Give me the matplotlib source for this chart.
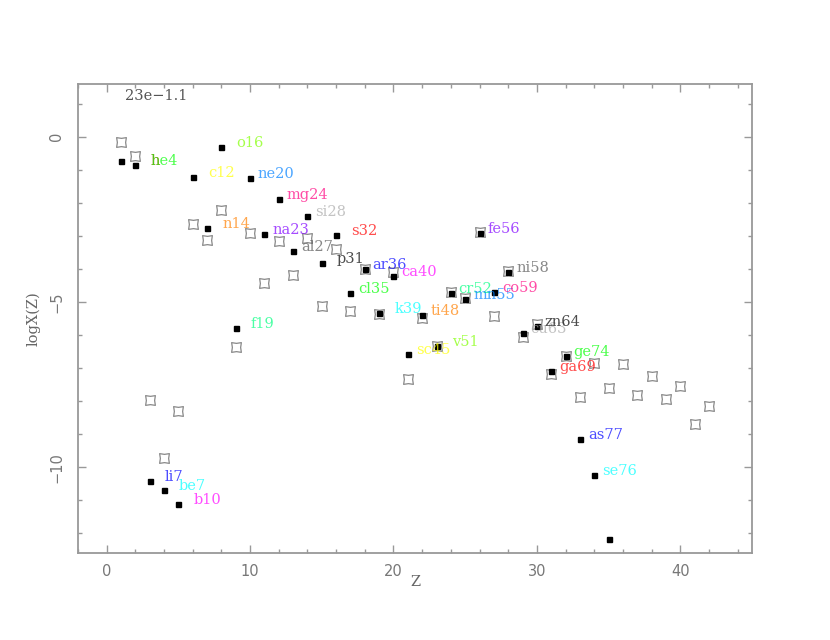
import numpy as np
import matplotlib
matplotlib.use('Agg')
import matplotlib.pyplot as plt
from matplotlib.path import Path
from matplotlib.ticker import MultipleLocator

# open squares: reference abundances
ref_z = list(range(1, 43))
ref_logx = [-0.17, -0.58, -7.97, -9.74, -8.29, -2.64, -3.12, -2.21, -6.36, -2.92,
            -4.43, -3.16, -4.18, -3.07, -5.12, -3.40, -5.27, -4.00, -5.38, -4.09,
            -7.32, -5.49, -6.33, -4.70, -4.87, -2.87, -5.42, -4.08, -6.05, -5.67,
            -7.17, -6.63, -7.88, -6.86, -7.61, -6.89, -7.81, -7.25, -7.94, -7.55,
            -8.71, -8.16]

# filled squares: model abundances
mod_z = list(range(1, 36))
mod_logx = [-0.74, -0.87, -10.42, -10.68, -11.12, -1.21, -2.75, -0.32, -5.79, -1.26,
            -2.95, -1.88, -3.46, -2.40, -3.81, -2.97, -4.73, -4.01, -5.34, -4.21,
            -6.57, -5.40, -6.35, -4.74, -4.90, -2.90, -4.71, -4.10, -5.93, -5.72,
            -7.09, -6.65, -9.14, -10.23, -12.17]
mod_names = ['h', 'he4', 'li7', 'be7', 'b10', 'c12', 'n14', 'o16', 'f19', 'ne20',
             'na23', 'mg24', 'al27', 'si28', 'p31', 's32', 'cl35', 'ar36', 'k39', 'ca40',
             'sc45', 'ti48', 'v51', 'cr52', 'mn55', 'fe56', 'co59', 'ni58', 'cu63', 'zn64',
             'ga69', 'ge74', 'as77', 'se76', '']

# pgplot colour indices 2..15, 1
pg_colors = ['#ff0000', '#00ff00', '#0000ff', '#00ffff', '#ff00ff', '#ffff00',
             '#ff8000', '#80ff00', '#00ff80', '#0080ff', '#8000ff', '#ff0080',
             '#555555', '#aaaaaa', '#000000']

# slightly concave square marker (pgplot style)
verts = [(-1, -1), (0, -0.85), (1, -1), (0.85, 0), (1, 1), (0, 0.85), (-1, 1), (-0.85, 0), (-1, -1)]
codes = [Path.MOVETO] + [Path.LINETO] * 7 + [Path.CLOSEPOLY]
open_sq = Path(verts, codes)

fig = plt.figure(figsize=(8.3, 6.4), dpi=100)
ax = fig.add_axes([0.094, 0.136, 0.812, 0.733])

ax.plot(ref_z, ref_logx, linestyle='none', marker=open_sq, markersize=7,
        markerfacecolor='none', markeredgecolor='#888888', markeredgewidth=0.9)
ax.plot(mod_z, mod_logx, linestyle='none', marker='s', markersize=3.6,
        color='black')

for i, (z, v, name) in enumerate(zip(mod_z, mod_logx, mod_names)):
    if not name:
        continue
    off = {1: 2.05, 3: 1.05, 4: 0.55}[len(name)]
    yy = v - 0.12 if len(name) == 1 else v
    ax.text(z + off, yy, name, color=pg_colors[i % 15], alpha=0.7,
            family='DejaVu Serif', fontsize=10.5, va='baseline', ha='left')

ax.text(1.3, 1.12, '23e\u22121.1', color='#555555', family='DejaVu Serif',
        fontsize=10.5, va='baseline')

ax.set_xlim(-2, 45)
ax.set_ylim(-12.6, 1.6)
ax.xaxis.set_major_locator(MultipleLocator(10))
ax.xaxis.set_minor_locator(MultipleLocator(2))
ax.yaxis.set_major_locator(MultipleLocator(5))
ax.yaxis.set_minor_locator(MultipleLocator(1))
ax.tick_params(which='both', direction='in', top=True, right=True, color='#999999',
               labelcolor='#777777', labelsize=10.5)
ax.tick_params(which='major', length=6, width=1)
ax.tick_params(which='minor', length=3, width=1)
ax.tick_params(axis='x', pad=8)
ax.tick_params(axis='y', pad=10)
for lab in ax.get_yticklabels():
    lab.set_rotation(90)
    lab.set_va('center')
for s in ax.spines.values():
    s.set_color('#999999')
    s.set_linewidth(1.3)

ax.set_xlabel('Z', family='DejaVu Serif', fontsize=10.5, color='#666666', labelpad=-3)
ax.set_ylabel('logX(Z)', family='DejaVu Serif', fontsize=10.5, color='#666666', labelpad=6)

fig.savefig('out.png', dpi=100)
